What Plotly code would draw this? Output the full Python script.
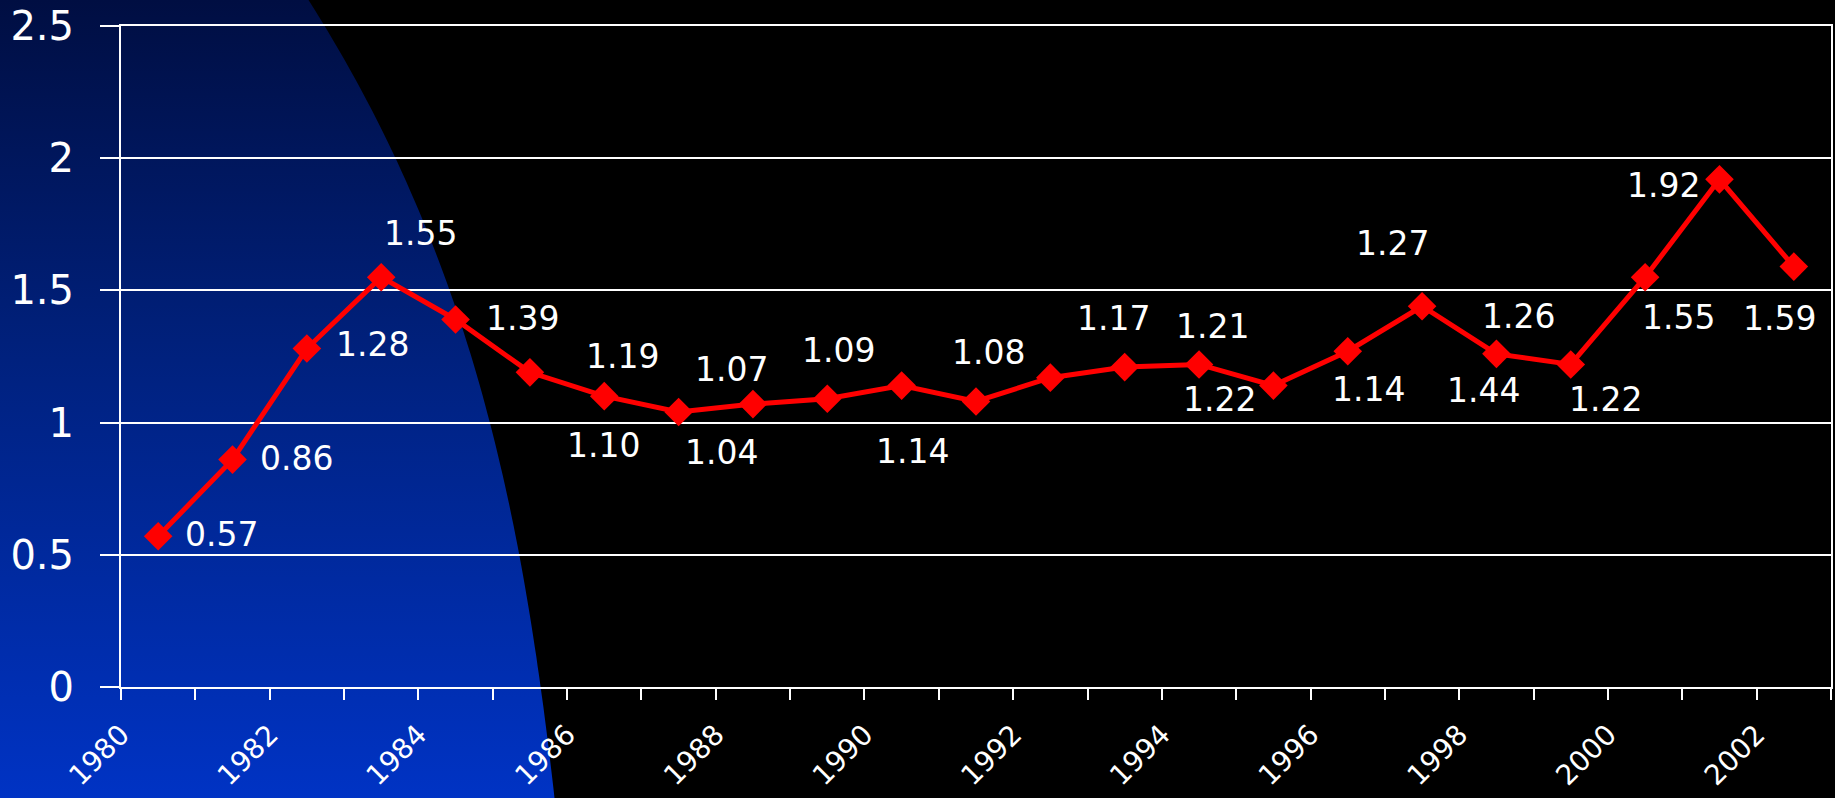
import base64
import numpy as np
import plotly.graph_objects as go

# ---------------- data ----------------
years = list(range(1980, 2003))
values = [0.57, 0.86, 1.28, 1.55, 1.39, 1.19, 1.10, 1.04, 1.07, 1.09, 1.14, 1.08,
          1.17, 1.21, 1.22, 1.14, 1.27, 1.44, 1.26, 1.22, 1.55, 1.92, 1.59]
tick_years = years[::2]
tick_labels = [str(y) for y in tick_years]
y_ticks = [0, 0.5, 1, 1.5, 2, 2.5]

# data-label offsets in screen pixels (dx right, dy down) -- style only
label_dx = [63, 64, 66, 39, 67, 93, -1, 43, -21, 11, 11, 12,
            63, 88, 20, 95, 45, 61, 22, 35, 33, -56, -14]
label_dy = [-2, -1, -4, -44, -1, -16, 49, 40, -35, -48, 66, -49,
            -59, -41, 35, 4, -108, 84, -37, 35, 40, 6, 52]

W, H = 1835, 798
ML, MR, MT, MB = 121, 4, 26, 111
PW, PH = W - ML - MR, H - MT - MB

# ---------------- background decoration (blue curved gradient) ----------------
edge_y = [0, 26, 158, 200, 290, 421, 500, 608, 690, 798]
edge_x = [308, 325, 395, 415, 450, 488, 508, 529, 542, 554]
coef = np.polyfit(edge_y, edge_x, 3)
ys = np.linspace(0, H, 80)
xs = np.polyval(coef, ys)
path = "M0,0 " + " ".join("L%.1f,%.1f" % (x, y) for x, y in zip(xs, ys)) + " L0,%d Z" % H

svg = (
    '<svg xmlns="http://www.w3.org/2000/svg" width="%d" height="%d" viewBox="0 0 %d %d" '
    'preserveAspectRatio="none">'
    '<defs><linearGradient id="g" x1="0" y1="0" x2="0" y2="1">'
    '<stop offset="0" stop-color="#000e42"/>'
    '<stop offset="0.45" stop-color="#00217e"/>'
    '<stop offset="1" stop-color="#0033c4"/>'
    '</linearGradient></defs>'
    '<path d="%s" fill="url(#g)"/></svg>'
) % (W, H, W, H, path)
src = "data:image/svg+xml;base64," + base64.b64encode(svg.encode()).decode()

# ---------------- figure ----------------
fig = go.Figure()
fig.add_trace(go.Scatter(
    x=years, y=values, mode="lines+markers",
    line=dict(color="#ff0000", width=5),
    marker=dict(symbol="diamond", size=22, color="#ff0000"),
    cliponaxis=False, hoverinfo="skip",
))

annotations = []
for yr, v, dx, dy in zip(years, values, label_dx, label_dy):
    annotations.append(dict(
        x=yr, y=v, xref="x", yref="y", text="%.2f" % v, showarrow=False,
        xanchor="center", yanchor="middle", xshift=dx, yshift=-dy,
        font=dict(family="DejaVu Sans", size=33, color="white"),
    ))

fig.update_layout(
    width=W, height=H,
    margin=dict(l=ML, r=MR, t=MT, b=MB, pad=0, autoexpand=False),
    paper_bgcolor="#000000",
    plot_bgcolor="rgba(0,0,0,0)",
    showlegend=False,
    annotations=annotations,
    images=[dict(
        source=src, xref="paper", yref="paper",
        x=-ML / PW, y=1 + MT / PH, sizex=W / PW, sizey=H / PH,
        xanchor="left", yanchor="top", sizing="stretch", layer="below",
    )],
    xaxis=dict(
        type="linear", range=[1979.5, 2002.5], automargin=False,
        tickmode="array", tickvals=tick_years, ticktext=tick_labels,
        tickangle=-45, tickfont=dict(family="DejaVu Sans", size=28, color="white"),
        ticks="outside", ticklen=11, tickcolor="rgba(0,0,0,0)",
        ticklabelshift=-37, ticklabelstandoff=7,
        minor=dict(tickmode="array", tickvals=[y - 0.5 for y in years] + [years[-1] + 0.5],
                   ticks="outside", ticklen=11, tickwidth=2, tickcolor="white",
                   showgrid=False),
        showgrid=False, zeroline=False,
        showline=True, linecolor="white", linewidth=2, mirror=True,
    ),
    yaxis=dict(
        range=[0, 2.5], tickmode="array", tickvals=y_ticks, automargin=False,
        tickfont=dict(family="DejaVu Sans", size=40, color="white"),
        ticks="outside", ticklen=19, tickwidth=2, tickcolor="white",
        ticklabelstandoff=18,
        showgrid=True, gridcolor="white", gridwidth=2, zeroline=False,
        showline=True, linecolor="white", linewidth=2, mirror=True,
    ),
)

fig.write_html("out.html")
